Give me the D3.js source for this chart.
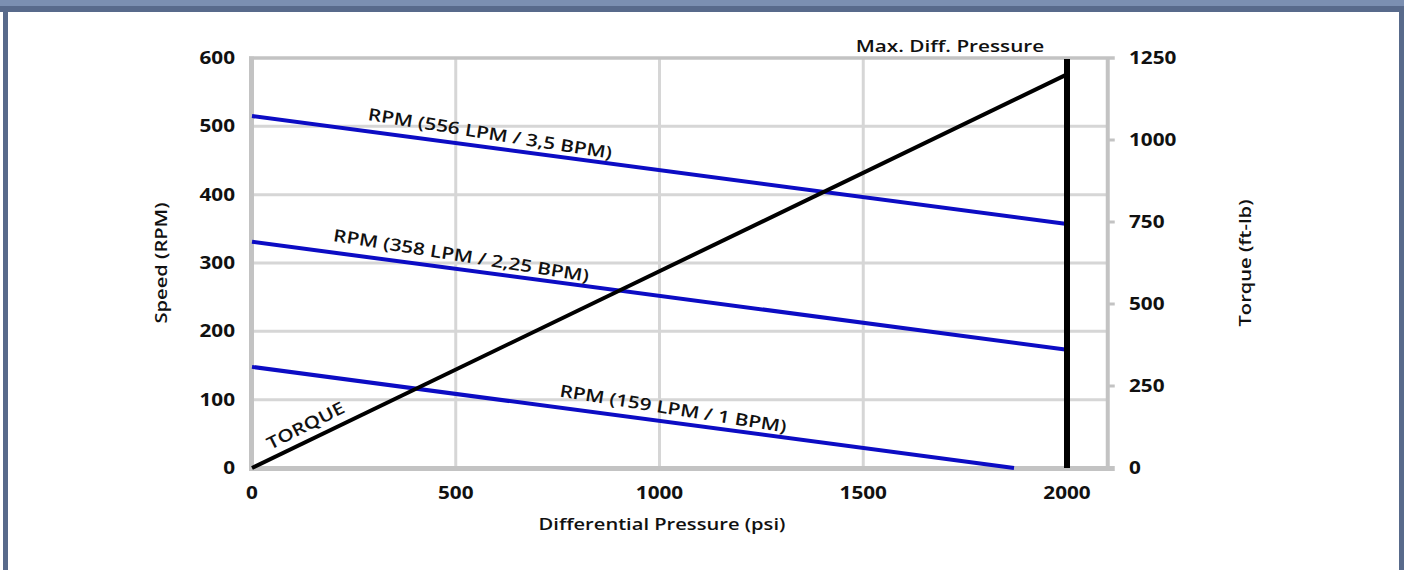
<!DOCTYPE html>
<html>
<head>
<meta charset="utf-8">
<script src="https://cdn.jsdelivr.net/npm/d3@7"></script>
<style>
  html, body { margin: 0; padding: 0; background: #ffffff; }
  svg { display: block; }
  text { font-family: "Open Sans", "DejaVu Sans", sans-serif; fill: #111; }
</style>
</head>
<body>
<svg id="chart" width="1404" height="570"></svg>
<script>
// Differential pressure (psi) end points of each curve
const pressure = [0, 2000];
const rpm159Pressure = [0, 1870];

// Motor speed (RPM) per flow rate
const rpm556 = [515, 357];
const rpm358 = [331, 173];
const rpm159 = [148, 0];

// Output torque (ft-lb)
const torque = [0, 1200];

// Axis ticks
const xTicks = [0, 500, 1000, 1500, 2000];
const speedTicks = [0, 100, 200, 300, 400, 500, 600];
const torqueTicks = [0, 250, 500, 750, 1000, 1250];
const maxPressure = 2000;

const rpmLabels = [
  { text: "RPM (556 LPM / 3,5 BPM)", at: 579 },
  { text: "RPM (358 LPM / 2,25 BPM)", at: 508 },
  { text: "RPM (159 LPM / 1 BPM)", at: 1028 }
];

const svg = d3.select("#chart");
const W = 1404, H = 570;
const STRETCH = 1.22; // lettering is set wide

// frame
svg.append("rect").attr("x", 0).attr("y", 0).attr("width", W).attr("height", H).attr("fill", "#ffffff");
svg.append("rect").attr("x", 0).attr("y", 0).attr("width", W).attr("height", 6).attr("fill", "#7b8fb1");
svg.append("rect").attr("x", 0).attr("y", 6).attr("width", W).attr("height", 6).attr("fill", "#586a8b");
svg.append("rect").attr("x", 3).attr("y", 6).attr("width", 5).attr("height", H).attr("fill", "#586a8b");
svg.append("rect").attr("x", 1399).attr("y", 6).attr("width", 5).attr("height", H).attr("fill", "#586a8b");

const x = d3.scaleLinear().domain([0, 2100]).range([252, 1107.75]);
const yL = d3.scaleLinear().domain([0, 600]).range([468, 58]);
const yR = d3.scaleLinear().domain([0, 1250]).range([468, 58]);

const grid = "#d6d6d6", frame = "#c3c3c3";

function addText(parent, tx, ty, rot, str, size, weight, anchor) {
  return parent.append("text")
    .attr("transform", `translate(${tx},${ty}) rotate(${rot}) scale(${STRETCH},1)`)
    .attr("text-anchor", anchor)
    .attr("font-size", size).attr("font-weight", weight)
    .text(str);
}

// gridlines
const g = svg.append("g");
g.selectAll(".hg").data(speedTicks.filter(d => d > 0 && d < 600)).join("line")
  .attr("x1", x(0)).attr("x2", x(2100)).attr("y1", d => yL(d)).attr("y2", d => yL(d))
  .attr("stroke", grid).attr("stroke-width", 3);
g.selectAll(".vg").data(xTicks.filter(d => d > 0)).join("line")
  .attr("x1", d => x(d)).attr("x2", d => x(d)).attr("y1", yL(0)).attr("y2", yL(600))
  .attr("stroke", grid).attr("stroke-width", 3);

// plot box
g.append("line").attr("x1", x(0) - 0.5).attr("x2", x(0) - 0.5).attr("y1", yL(600) - 1.5).attr("y2", yL(0) + 3)
  .attr("stroke", frame).attr("stroke-width", 5);
g.append("line").attr("x1", x(0) - 3).attr("x2", x(2100) + 7).attr("y1", yL(0) + 0.5).attr("y2", yL(0) + 0.5)
  .attr("stroke", frame).attr("stroke-width", 5);
g.append("line").attr("x1", x(0) - 3).attr("x2", x(2100) + 7).attr("y1", yL(600)).attr("y2", yL(600))
  .attr("stroke", frame).attr("stroke-width", 3.5);
g.append("line").attr("x1", x(2100)).attr("x2", x(2100)).attr("y1", yL(600)).attr("y2", yL(0))
  .attr("stroke", frame).attr("stroke-width", 4);
// right-axis tick marks
g.selectAll(".rt").data(torqueTicks.filter(d => d > 0 && d < 1250)).join("line")
  .attr("x1", x(2100)).attr("x2", x(2100) + 7).attr("y1", d => yR(d)).attr("y2", d => yR(d))
  .attr("stroke", frame).attr("stroke-width", 3);

// curves
function drawSeries(px, vals, scale, color, width) {
  svg.append("path")
    .datum(d3.zip(px, vals))
    .attr("d", d3.line().x(d => x(d[0])).y(d => scale(d[1])))
    .attr("fill", "none").attr("stroke", color).attr("stroke-width", width);
}
drawSeries(pressure, rpm556, yL, "#0c0cc4", 4);
drawSeries(pressure, rpm358, yL, "#0c0cc4", 4);
drawSeries(rpm159Pressure, rpm159, yL, "#0c0cc4", 4);
drawSeries(pressure, torque, yR, "#000000", 4);

// maximum differential pressure limit
svg.append("line")
  .attr("x1", x(maxPressure)).attr("x2", x(maxPressure))
  .attr("y1", yL(0)).attr("y2", yL(600) + 1)
  .attr("stroke", "#000").attr("stroke-width", 6);
addText(svg, 950, 52, 0, "Max. Diff. Pressure", 17, 600, "middle");

// curve labels, laid along each line
function labelOn(px, vals, scale, at, str, offset, extraAngle) {
  const a = [x(px[0]), scale(vals[0])], b = [x(px[1]), scale(vals[1])];
  const ang = Math.atan2(b[1] - a[1], b[0] - a[0]) * 180 / Math.PI + extraAngle;
  const v = d3.interpolateNumber(vals[0], vals[1])((at - px[0]) / (px[1] - px[0]));
  const r = ang * Math.PI / 180;
  const ox = -Math.sin(r) * offset, oy = Math.cos(r) * offset;
  addText(svg, x(at) + ox, scale(v) + oy, ang, str, 17, 600, "middle");
}
labelOn(pressure, rpm556, yL, rpmLabels[0].at, rpmLabels[0].text, -8, 1.5);
labelOn(pressure, rpm358, yL, rpmLabels[1].at, rpmLabels[1].text, -8, 1.5);
labelOn(rpm159Pressure, rpm159, yL, rpmLabels[2].at, rpmLabels[2].text, -8, 1.5);
labelOn(pressure, torque, yR, 148, "TORQUE", -9, -1);

// tick labels
const tl = svg.append("g");
xTicks.forEach(d => addText(tl, x(d), yL(0) + 31, 0, d, 17, 700, "middle"));
speedTicks.forEach(d => addText(tl, 235, yL(d) + 6, 0, d, 17, 700, "end"));
torqueTicks.forEach(d => addText(tl, 1129, yR(d) + 6, 0, d, 17, 700, "start"));

// axis titles
addText(svg, 662, 530, 0, "Differential Pressure (psi)", 16.5, 600, "middle");
svg.append("text").attr("transform", `translate(167,263) rotate(-90) scale(${STRETCH},1)`)
  .attr("text-anchor", "middle").attr("font-size", 16.5).attr("font-weight", 600).text("Speed (RPM)");
svg.append("text").attr("transform", `translate(1251,263) rotate(-90) scale(${STRETCH},1)`)
  .attr("text-anchor", "middle").attr("font-size", 16.5).attr("font-weight", 600).text("Torque (ft-lb)");
</script>
</body>
</html>
